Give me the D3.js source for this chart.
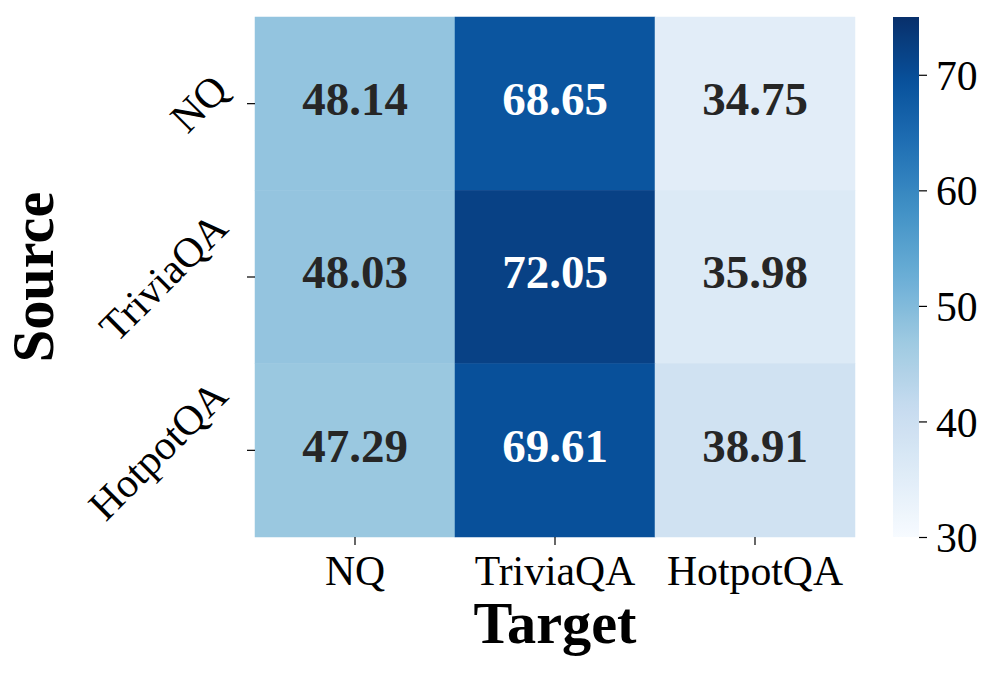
<!DOCTYPE html>
<html>
<head>
<meta charset="utf-8">
<script src="https://cdn.jsdelivr.net/npm/d3@7"></script>
<style>
  html, body { margin: 0; padding: 0; background: #fff; }
  svg { display: block; }
  text { font-family: "Liberation Serif", "Times New Roman", serif; }
</style>
</head>
<body>
<svg id="chart" width="997" height="675"></svg>
<script>
// ---- data ----
const sources = ["NQ", "TriviaQA", "HotpotQA"];
const targets = ["NQ", "TriviaQA", "HotpotQA"];
const rowNQ = [48.14, 68.65, 34.75];
const rowTriviaQA = [48.03, 72.05, 35.98];
const rowHotpotQA = [47.29, 69.61, 38.91];
const values = [rowNQ, rowTriviaQA, rowHotpotQA];
const colorbarTicks = [30, 40, 50, 60, 70];
const vmin = 30, vmax = 75;
const xLabel = "Target";
const yLabel = "Source";
// matplotlib "Blues" anchor colors
const bluesStops = ["#f7fbff","#deebf7","#c6dbef","#9ecae1","#6baed6","#4292c6","#2171b5","#08519c","#08306b"];

// ---- layout ----
const hm = { left: 255, right: 855, top: 17, bottom: 537 };
const cb = { left: 893, right: 919 };
const svg = d3.select("#chart");

const x = d3.scaleBand().domain(targets).range([hm.left, hm.right]);
const y = d3.scaleBand().domain(sources).range([hm.top, hm.bottom]);
const cmapT = d3.scaleLinear()
  .domain(bluesStops.map((_, i) => i / (bluesStops.length - 1)))
  .range(bluesStops)
  .interpolate(d3.interpolateRgb)
  .clamp(true);
const color = v => cmapT((v - vmin) / (vmax - vmin));

function relLum(c) {
  const rgb = d3.rgb(c);
  const f = v => { v /= 255; return v <= 0.03928 ? v / 12.92 : Math.pow((v + 0.055) / 1.055, 2.4); };
  return 0.2126 * f(rgb.r) + 0.7152 * f(rgb.g) + 0.0722 * f(rgb.b);
}

const cells = [];
sources.forEach((s, i) => targets.forEach((t, j) => cells.push({ s, t, v: values[i][j] })));

// cells
svg.append("g").selectAll("rect").data(cells).join("rect")
  .attr("x", d => x(d.t))
  .attr("y", d => y(d.s))
  .attr("width", x.bandwidth())
  .attr("height", y.bandwidth())
  .attr("fill", d => color(d.v))
  .attr("stroke", d => color(d.v))
  .attr("stroke-width", 0.5);

// annotations
const annSize = 47;
svg.append("g").selectAll("text").data(cells).join("text")
  .attr("x", d => x(d.t) + x.bandwidth() / 2)
  .attr("y", d => y(d.s) + y.bandwidth() / 2 + 0.24 * annSize)
  .attr("text-anchor", "middle")
  .attr("font-size", annSize)
  .attr("font-weight", "bold")
  .attr("fill", d => relLum(color(d.v)) < 0.408 ? "#ffffff" : "#262626")
  .text(d => d.v.toFixed(2));

const tickFs = 41.7;

// x axis
const xAxis = svg.append("g")
  .attr("transform", `translate(0,${hm.bottom})`)
  .call(d3.axisBottom(x).tickSize(8).tickPadding(10));
xAxis.select(".domain").remove();
xAxis.selectAll(".tick line").attr("stroke", "#000").attr("stroke-width", 1.2);
xAxis.selectAll(".tick text")
  .attr("font-size", tickFs)
  .attr("fill", "#000")
  .attr("dy", null)
  .attr("y", 48)
  .style("font-family", "'Liberation Serif', serif");

// y axis (45 deg rotated labels, right-aligned bbox, vertically centered)
const yAxis = svg.append("g")
  .attr("transform", `translate(${hm.left},0)`)
  .call(d3.axisLeft(y).tickSize(8).tickFormat(""));
yAxis.select(".domain").remove();
yAxis.selectAll(".tick line").attr("stroke", "#000").attr("stroke-width", 1.2);
yAxis.selectAll(".tick").each(function(d) {
  const g = d3.select(this);
  const t = g.append("text")
    .attr("font-size", tickFs)
    .attr("fill", "#000")
    .attr("text-anchor", "middle")
    .attr("dominant-baseline", "central")
    .style("font-family", "'Liberation Serif', serif")
    .text(d);
  const bb = t.node().getBBox();
  const h = tickFs * 1.0;
  const W = (bb.width + h) * Math.SQRT1_2;
  const cx = -8 - 12 - W / 2;
  t.attr("transform", `translate(${cx},0) rotate(-45)`);
});

// axis titles
const titleFs = 58.3;
svg.append("text")
  .attr("x", (hm.left + hm.right) / 2)
  .attr("y", 643)
  .attr("text-anchor", "middle")
  .attr("font-size", titleFs)
  .attr("font-weight", "bold")
  .text(xLabel);
svg.append("text")
  .attr("transform", `translate(53,${(hm.top + hm.bottom) / 2}) rotate(-90)`)
  .attr("text-anchor", "middle")
  .attr("font-size", titleFs)
  .attr("font-weight", "bold")
  .text(yLabel);

// colorbar
const cbScale = d3.scaleLinear().domain([vmin, vmax]).range([hm.bottom, hm.top]);
const defs = svg.append("defs");
const grad = defs.append("linearGradient").attr("id", "cbgrad")
  .attr("x1", 0).attr("y1", 1).attr("x2", 0).attr("y2", 0);
d3.range(0, 1.0001, 0.02).forEach(t => {
  grad.append("stop").attr("offset", t).attr("stop-color", cmapT(t));
});
svg.append("rect")
  .attr("x", cb.left).attr("y", hm.top)
  .attr("width", cb.right - cb.left).attr("height", hm.bottom - hm.top)
  .attr("fill", "url(#cbgrad)");
const cAxis = svg.append("g")
  .attr("transform", `translate(${cb.right},0)`)
  .call(d3.axisRight(cbScale).tickValues(colorbarTicks).tickSize(8).tickPadding(9));
cAxis.select(".domain").remove();
cAxis.selectAll(".tick line").attr("stroke", "#000").attr("stroke-width", 1.2);
cAxis.selectAll(".tick text")
  .attr("font-size", tickFs)
  .attr("fill", "#000")
  .attr("dy", "0.35em")
  .style("font-family", "'Liberation Serif', serif");
</script>
</body>
</html>
